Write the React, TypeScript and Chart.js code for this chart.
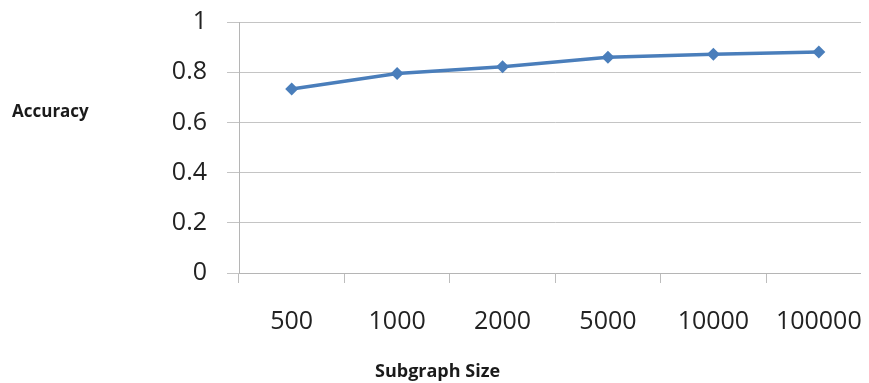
import React, { useEffect, useRef } from "react";
import { Chart, registerables } from "chart.js";

Chart.register(...registerables);

const categories = ["500", "1000", "2000", "5000", "10000", "100000"];
const accuracy = [0.733, 0.795, 0.822, 0.86, 0.872, 0.88];
const yTicks = [0, 0.2, 0.4, 0.6, 0.8, 1];
const yTitle = "Accuracy";
const xTitle = "Subgraph Size";

const titlesPlugin = {
  id: "freeTitles",
  afterDraw(chart: any) {
    const ctx = chart.ctx;
    ctx.save();
    ctx.fillStyle = "#1a1a1a";
    ctx.textBaseline = "middle";
    ctx.textAlign = "left";
    ctx.font = "bold 17px 'Open Sans'";
    ctx.fillText(yTitle, 4, 104);
    ctx.font = "bold 18px 'Open Sans'";
    ctx.fillText(xTitle, 367, 364);
    ctx.restore();
  },
};

export default function App() {
  const ref = useRef<HTMLCanvasElement>(null);
  useEffect(() => {
    if (!ref.current) return;
    const chart = new Chart(ref.current, {
      type: "line",
      data: {
        labels: categories,
        datasets: [
          {
            data: accuracy,
            borderColor: "#4a7ebb",
            backgroundColor: "#4a7ebb",
            borderWidth: 3.5,
            pointStyle: "rectRot",
            pointRadius: 6.5,
            pointBorderWidth: 0,
            tension: 0,
          },
        ],
      },
      options: {
        animation: false,
        responsive: false,
        maintainAspectRatio: false,
        layout: { padding: { left: 0, right: 5, top: 14, bottom: 0 } },
        plugins: { legend: { display: false }, tooltip: { enabled: false } },
        scales: {
          x: {
            type: "category",
            offset: true,
            grid: {
              offset: true,
              drawOnChartArea: false,
              drawTicks: true,
              tickLength: 10,
              tickColor: "#bdbdbd",
              lineWidth: 1,
            },
            border: { color: "#b5b5b5", width: 1 },
            ticks: {
              padding: 24,
              color: "#222",
              font: { family: "'Open Sans'", size: 25 },
              maxRotation: 0,
              autoSkip: false,
            },
            afterFit(scale: any) {
              scale.height = 110;
              scale.paddingLeft = 0;
              scale.paddingRight = 0;
            },
          },
          y: {
            min: 0,
            max: 1,
            afterBuildTicks(scale: any) {
              scale.ticks = yTicks.map((v) => ({ value: v }));
            },
            grid: {
              color: "#c4c4c4",
              lineWidth: 1,
              tickLength: 12,
              tickColor: "#c4c4c4",
            },
            border: { color: "#b5b5b5", width: 1 },
            ticks: {
              padding: 20,
              color: "#222",
              font: { family: "'Open Sans'", size: 25 },
              callback: (v: any) => String(v),
            },
            afterFit(scale: any) {
              scale.width = 231;
              scale.paddingTop = 0;
              scale.paddingBottom = 0;
            },
          },
        },
      },
      plugins: [titlesPlugin],
    } as any);
    return () => chart.destroy();
  }, []);
  return (
    <div style={{ width: 861, height: 375, overflow: "hidden" }}>
      <canvas ref={ref} width={870} height={375} style={{ display: "block" }} />
    </div>
  );
}
